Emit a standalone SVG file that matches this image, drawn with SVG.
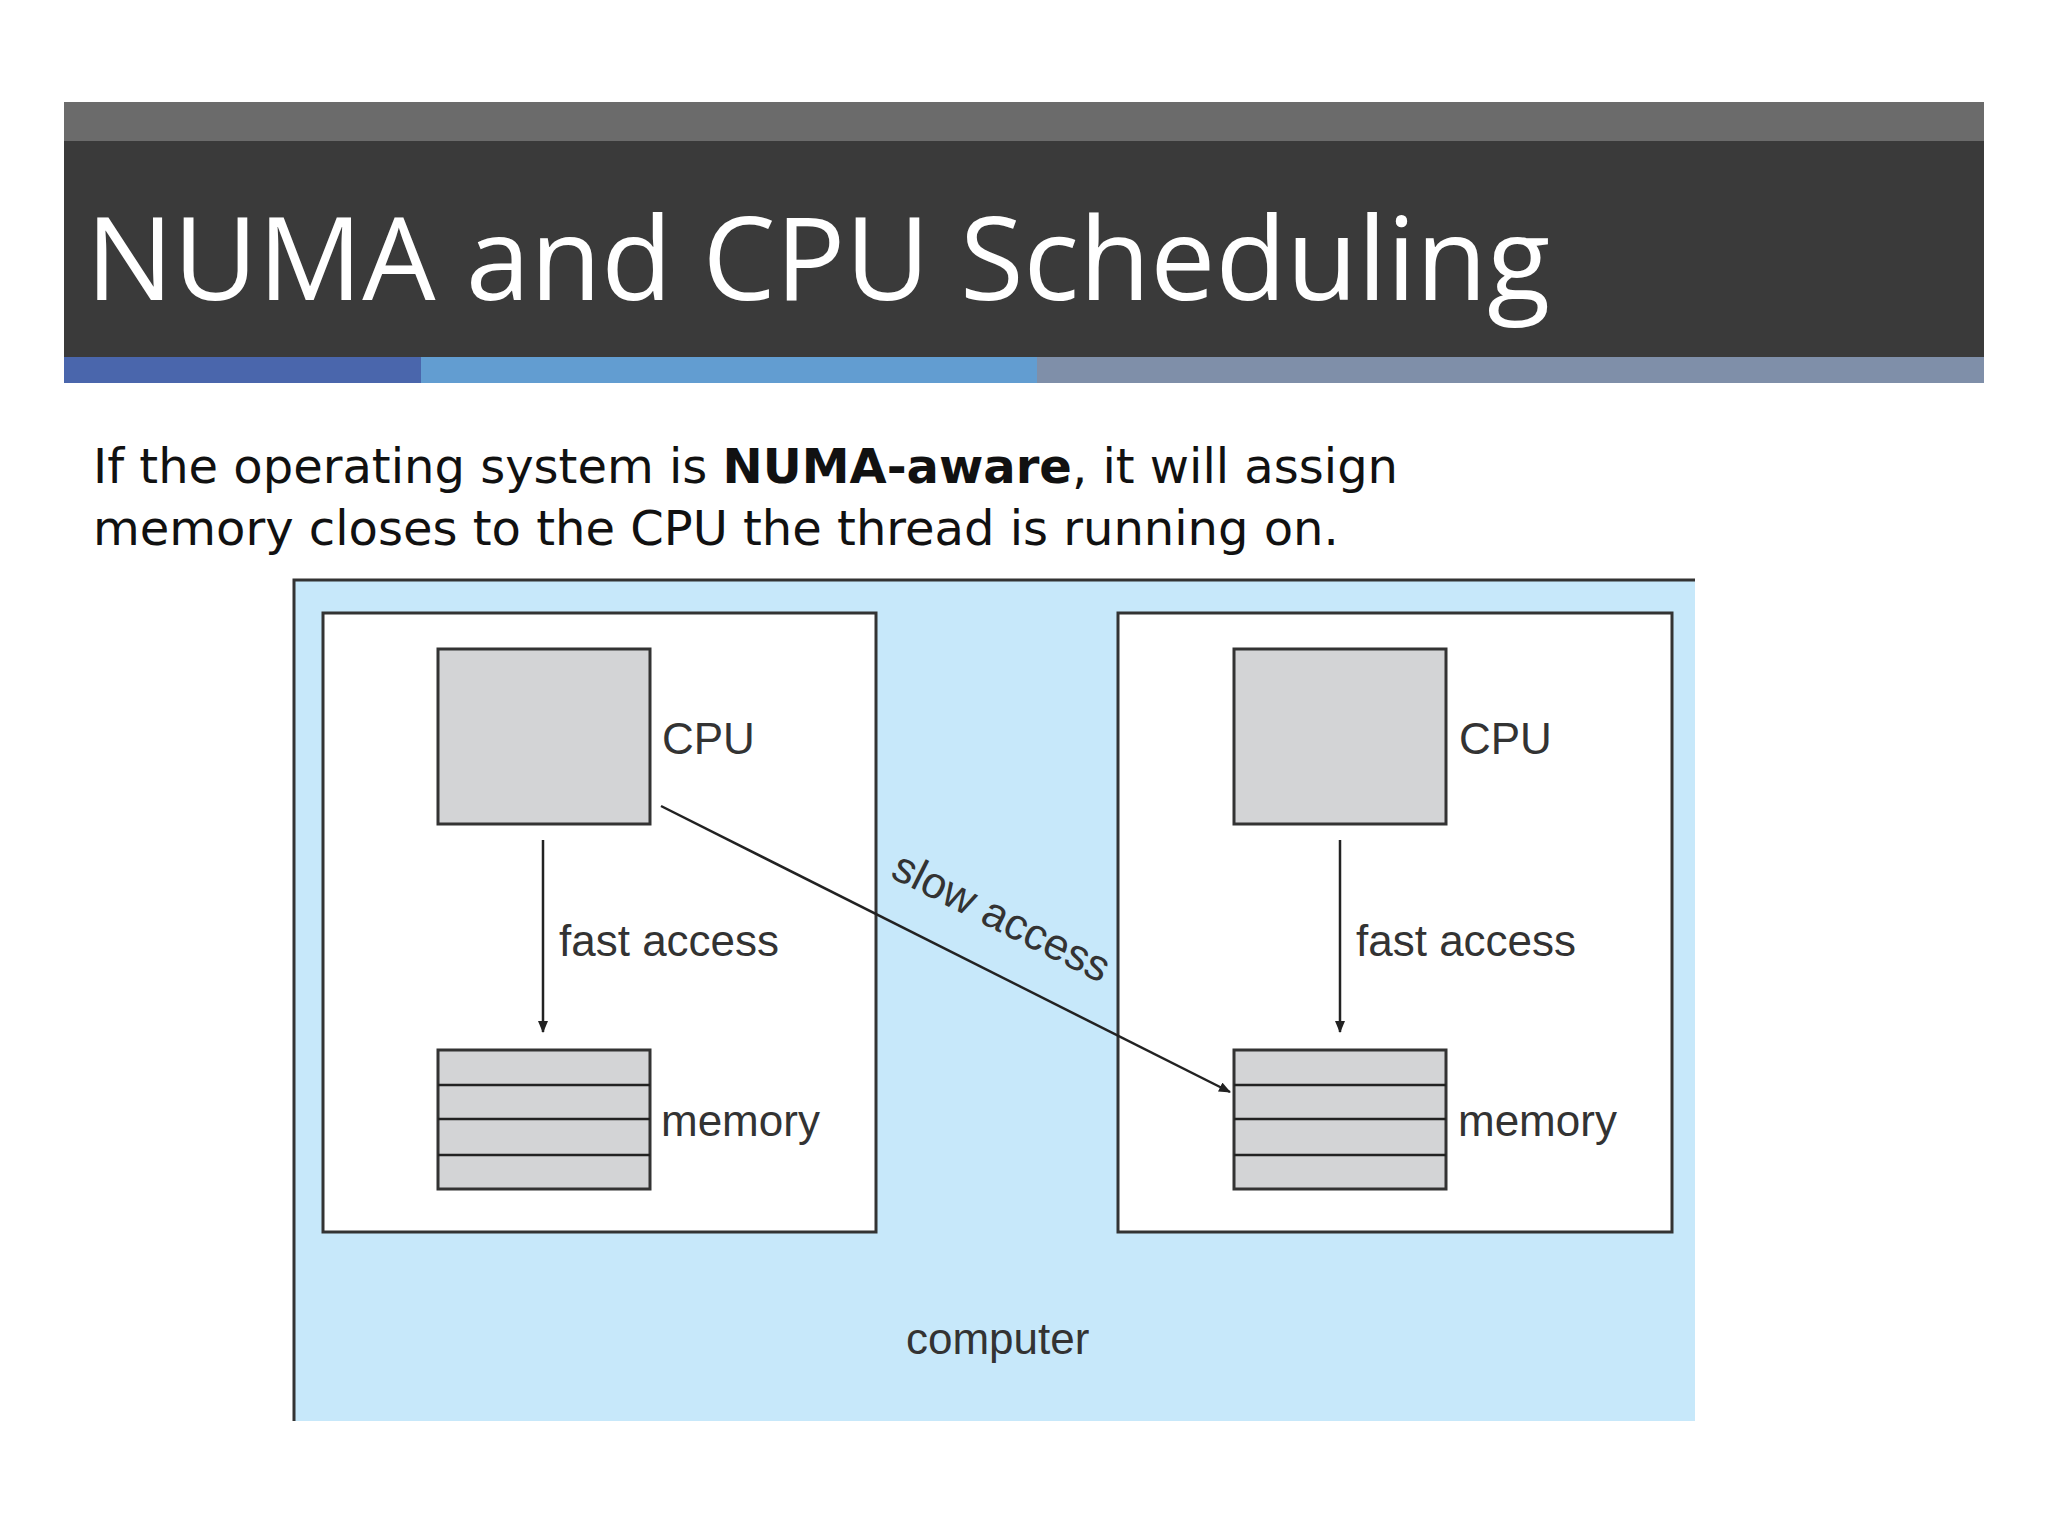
<svg xmlns="http://www.w3.org/2000/svg" width="2048" height="1536" viewBox="0 0 2048 1536">
<style>
.lbl{font-family:"Liberation Sans",Arial,sans-serif;font-size:44px;fill:#333}
.box{fill:#fff;stroke:#333;stroke-width:3}
.g{fill:#d3d4d6;stroke:#333;stroke-width:3}
.ln{stroke:#222;stroke-width:2.5}
</style>
<defs><marker id="ah" markerWidth="12" markerHeight="10" refX="11" refY="5" orient="auto" markerUnits="userSpaceOnUse"><path d="M0,0 L12,5 L0,10 z" fill="#222"/></marker></defs>
<rect width="2048" height="1536" fill="#fff"/>
<rect x="64" y="102" width="1920" height="39" fill="#6b6b6b"/>
<rect x="64" y="141" width="1920" height="216" fill="#3a3a3a"/>
<rect x="64" y="357" width="357" height="26" fill="#4a66ac"/>
<rect x="421" y="357" width="616" height="26" fill="#629dd1"/>
<rect x="1037" y="357" width="947" height="26" fill="#7f8fa9"/>
<text x="86" y="300" font-family="'Open Sans','Noto Sans',sans-serif" font-size="116" fill="#fff">NUMA and CPU Scheduling</text>
<text font-family="'DejaVu Sans',Verdana,sans-serif" font-size="48" fill="#111"><tspan x="93" y="483">If the operating system is <tspan font-weight="bold">NUMA-aware</tspan>, it will assign</tspan><tspan x="93" y="545">memory closes to the CPU the thread is running on.</tspan></text>
<g id="computer">
<rect x="294" y="580" width="1401" height="841" fill="#c7e8fa"/>
<path d="M294,1421 V580 H1695" fill="none" stroke="#333" stroke-width="3"/>
<text class="lbl" x="906" y="1354">computer</text>
</g>
<g id="node1">
<rect class="box" x="323" y="613" width="553" height="619"/>
<rect class="g" x="438" y="649" width="212" height="175"/>
<text class="lbl" x="662" y="754">CPU</text>
<rect class="g" x="438" y="1050" width="212" height="139"/>
<path class="ln" d="M438,1085H650M438,1119H650M438,1155H650"/>
<text class="lbl" x="661" y="1136">memory</text>
<text class="lbl" x="559" y="956">fast access</text>
</g>
<g id="node2">
<rect class="box" x="1118" y="613" width="554" height="619"/>
<rect class="g" x="1234" y="649" width="212" height="175"/>
<text class="lbl" x="1459" y="754">CPU</text>
<rect class="g" x="1234" y="1050" width="212" height="139"/>
<path class="ln" d="M1234,1085H1446M1234,1119H1446M1234,1155H1446"/>
<text class="lbl" x="1458" y="1136">memory</text>
<text class="lbl" x="1356" y="956">fast access</text>
</g>
<g id="connectors">
<line class="ln" x1="543" y1="840" x2="543" y2="1032" marker-end="url(#ah)"/>
<line class="ln" x1="1340" y1="840" x2="1340" y2="1032" marker-end="url(#ah)"/>
<line class="ln" x1="661" y1="806" x2="1230" y2="1092" marker-end="url(#ah)"/>
<text class="lbl" transform="translate(995,930) rotate(26.7)" text-anchor="middle">slow access</text>
</g>
</svg>
